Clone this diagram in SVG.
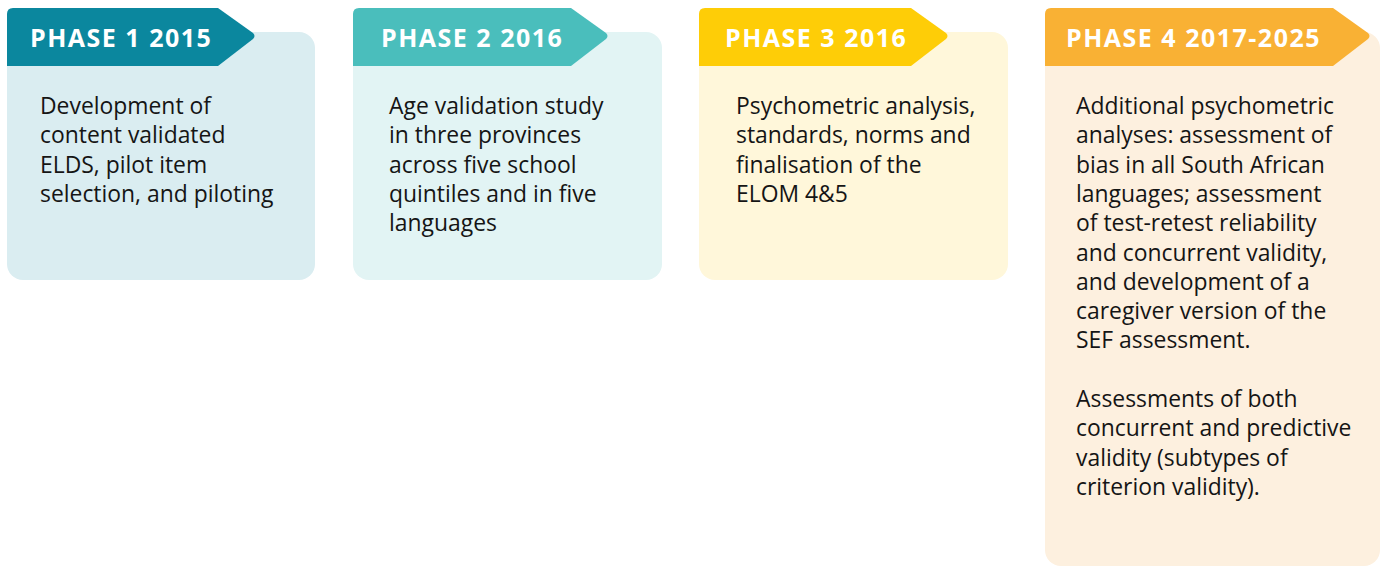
<svg xmlns="http://www.w3.org/2000/svg" width="1384" height="567" viewBox="0 0 1384 567">
<style>
.hd{font-family:"Open Sans","Liberation Sans",sans-serif;font-weight:bold;font-size:25px;fill:#ffffff;letter-spacing:1.5px}
.bd{font-family:"Open Sans","Liberation Sans",sans-serif;font-size:22.9px;fill:#151515}
</style>
<rect width="1384" height="567" fill="#ffffff"/>
<g id="phase1">
<rect x="7" y="32" width="308" height="248" rx="16" fill="#daedf1"/>
<path d="M13,8 H218 L253,33 Q256,36 253,39 L218,66 H7 V14 Q7,8 13,8 Z" fill="#0b879e"/>
<text class="hd" x="30" y="47">PHASE 1 2015</text>
<text class="bd" x="40" y="114"><tspan x="40">Development of</tspan><tspan x="40" dy="29.3">content validated</tspan><tspan x="40" dy="29.3">ELDS, pilot item</tspan><tspan x="40" dy="29.3">selection, and piloting</tspan></text>
</g>
<g id="phase2">
<rect x="353" y="32" width="309" height="248" rx="16" fill="#e2f4f4"/>
<path d="M359,8 H571 L606,33 Q609,36 606,39 L571,66 H353 V14 Q353,8 359,8 Z" fill="#4abebc"/>
<text class="hd" x="381" y="47">PHASE 2 2016</text>
<text class="bd" x="389" y="114"><tspan x="389">Age validation study</tspan><tspan x="389" dy="29.3">in three provinces</tspan><tspan x="389" dy="29.3">across five school</tspan><tspan x="389" dy="29.3">quintiles and in five</tspan><tspan x="389" dy="29.3">languages</tspan></text>
</g>
<g id="phase3">
<rect x="699" y="32" width="309" height="248" rx="16" fill="#fff7da"/>
<path d="M705,8 H911 L946,33 Q949,36 946,39 L911,66 H699 V14 Q699,8 705,8 Z" fill="#fecd07"/>
<text class="hd" x="725" y="47">PHASE 3 2016</text>
<text class="bd" x="736" y="114"><tspan x="736">Psychometric analysis,</tspan><tspan x="736" dy="29.3">standards, norms and</tspan><tspan x="736" dy="29.3">finalisation of the</tspan><tspan x="736" dy="29.3">ELOM 4&amp;5</tspan></text>
</g>
<g id="phase4">
<rect x="1045" y="32" width="335" height="534" rx="16" fill="#fdf0df"/>
<path d="M1051,8 H1333 L1368,33 Q1371,36 1368,39 L1333,66 H1045 V14 Q1045,8 1051,8 Z" fill="#f9b134"/>
<text class="hd" x="1066" y="47">PHASE 4 2017-2025</text>
<text class="bd" x="1076" y="114"><tspan x="1076">Additional psychometric</tspan><tspan x="1076" dy="29.3">analyses: assessment of</tspan><tspan x="1076" dy="29.3">bias in all South African</tspan><tspan x="1076" dy="29.3">languages; assessment</tspan><tspan x="1076" dy="29.3">of test-retest reliability</tspan><tspan x="1076" dy="29.3">and concurrent validity,</tspan><tspan x="1076" dy="29.3">and development of a</tspan><tspan x="1076" dy="29.3">caregiver version of the</tspan><tspan x="1076" dy="29.3">SEF assessment.</tspan><tspan x="1076" dy="58.6">Assessments of both</tspan><tspan x="1076" dy="29.3">concurrent and predictive</tspan><tspan x="1076" dy="29.3">validity (subtypes of</tspan><tspan x="1076" dy="29.3">criterion validity).</tspan></text>
</g>
<g id="connectors"/>
</svg>
